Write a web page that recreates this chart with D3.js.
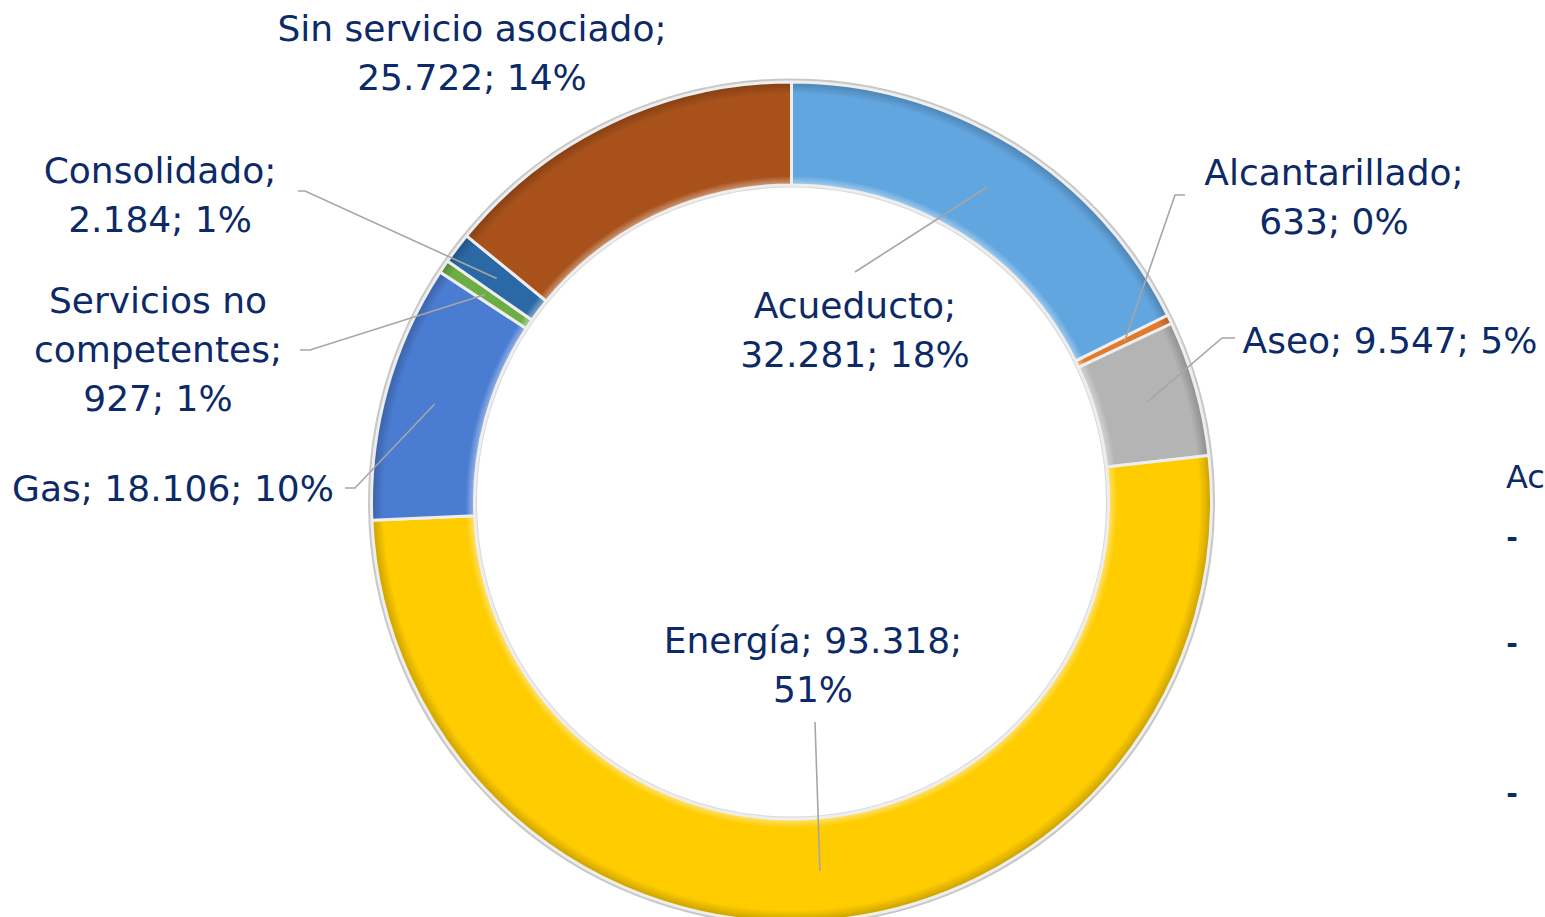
<!DOCTYPE html>
<html><head><meta charset="utf-8">
<script src="https://cdn.jsdelivr.net/npm/d3@7"></script>
<style>html,body{margin:0;padding:0;background:#fff;overflow:hidden}</style>
</head><body>
<svg id="c" width="1545" height="917"></svg>
<script>
// ---- data ----
const categories = ["Acueducto","Alcantarillado","Aseo","Energía","Gas","Servicios no competentes","Consolidado","Sin servicio asociado"];
const values = [32281, 633, 9547, 93318, 18106, 927, 2184, 25722];
const percentLabels = ["18%","0%","5%","51%","10%","1%","1%","14%"];
const valueLabels = ["32.281","633","9.547","93.318","18.106","927","2.184","25.722"];
const legendFragments = ["Ac","-","-","-"];

// ---- styles / layout ----
const colors = ["#62A6E0","#E27A2C","#B4B4B4","#FFCC00","#4A7CD2","#6CAE45","#2A69A6","#A8511A"];
const labelLines = [
  ["Acueducto;","32.281; 18%"],
  ["Alcantarillado;","633; 0%"],
  ["Aseo; 9.547; 5%"],
  ["Energía; 93.318;","51%"],
  ["Gas; 18.106; 10%"],
  ["Servicios no","competentes;","927; 1%"],
  ["Consolidado;","2.184; 1%"],
  ["Sin servicio asociado;","25.722; 14%"]
];
const labelPos = [[855,305],[1334,172],[1390,340],[813,640],[173,488],[158,300],[160,170],[472,28]];
const leaderStart = [[[855,272]],[[1185,195],[1175,195]],[[1235,338],[1222,338]],[[815,722]],[[345,488],[355,488]],[[300,350],[310,350]],[[298,191],[305,191]],null];

const W=1545,H=917, cx=791.5, cy=502, rOuter=420, rInner=317;
const svg=d3.select("#c");
const defs=svg.append("defs");

const pie=d3.pie().sort(null).value(d=>d)(values);
const arc=d3.arc().innerRadius(rInner).outerRadius(rOuter);
const g=svg.append("g").attr("transform",`translate(${cx},${cy})`);

colors.forEach((c,i)=>{
  const base=d3.color(c);
  const gr=defs.append("radialGradient").attr("id","gr"+i)
    .attr("gradientUnits","userSpaceOnUse").attr("cx",0).attr("cy",0).attr("r",rOuter);
  gr.append("stop").attr("offset",rInner/rOuter).attr("stop-color",d3.interpolateRgb(c,"#fff")(0.45));
  gr.append("stop").attr("offset",(rInner+9)/rOuter).attr("stop-color",c);
  gr.append("stop").attr("offset",(rOuter-12)/rOuter).attr("stop-color",c);
  gr.append("stop").attr("offset",1).attr("stop-color",base.darker(0.7));
});

g.append("circle").attr("r",rOuter+2).attr("fill","none").attr("stroke","#c8c8c8").attr("stroke-width",3);
g.append("circle").attr("r",rInner-1.5).attr("fill","none").attr("stroke","#d8d8d8").attr("stroke-width",2);

g.selectAll("path.s").data(pie).join("path").attr("class","s")
  .attr("d",arc).attr("fill",(d,i)=>`url(#gr${i})`)
  .attr("stroke","#eeeeee").attr("stroke-width",3).attr("stroke-linejoin","round");

const midR=370;
pie.forEach((d,i)=>{
  if(!leaderStart[i]) return;
  const a=(d.startAngle+d.endAngle)/2;
  const end=[cx+midR*Math.sin(a), cy-midR*Math.cos(a)];
  const pts=leaderStart[i].concat([end]);
  svg.append("path").attr("d",d3.line()(pts)).attr("fill","none")
    .attr("stroke","#a6a6a6").attr("stroke-width",1.6);
});

const font="'DejaVu Sans',sans-serif";
const txtColor="#0C2A68";
const lh=49;
labelLines.forEach((lines,i)=>{
  const [x,y]=labelPos[i];
  const t=svg.append("text").attr("x",x).attr("y",y).attr("text-anchor","middle")
    .attr("font-family",font).attr("font-size",36).attr("fill",txtColor)
    .attr("dominant-baseline","central");
  lines.forEach((s,k)=>t.append("tspan").attr("x",x).attr("y",y+k*lh).text(s));
});

const legPos=[[1506,477,"start"],[1512,537,"middle"],[1512,643,"middle"],[1512,793,"middle"]];
legendFragments.forEach((s,i)=>{
  svg.append("text").attr("x",legPos[i][0]).attr("y",legPos[i][1]).attr("text-anchor",legPos[i][2])
    .attr("dominant-baseline","central").attr("font-family",font).attr("font-size",i===0?32:28)
    .attr("font-weight",i===0?"normal":"bold").attr("fill",txtColor).text(s);
});
</script>
</body></html>
